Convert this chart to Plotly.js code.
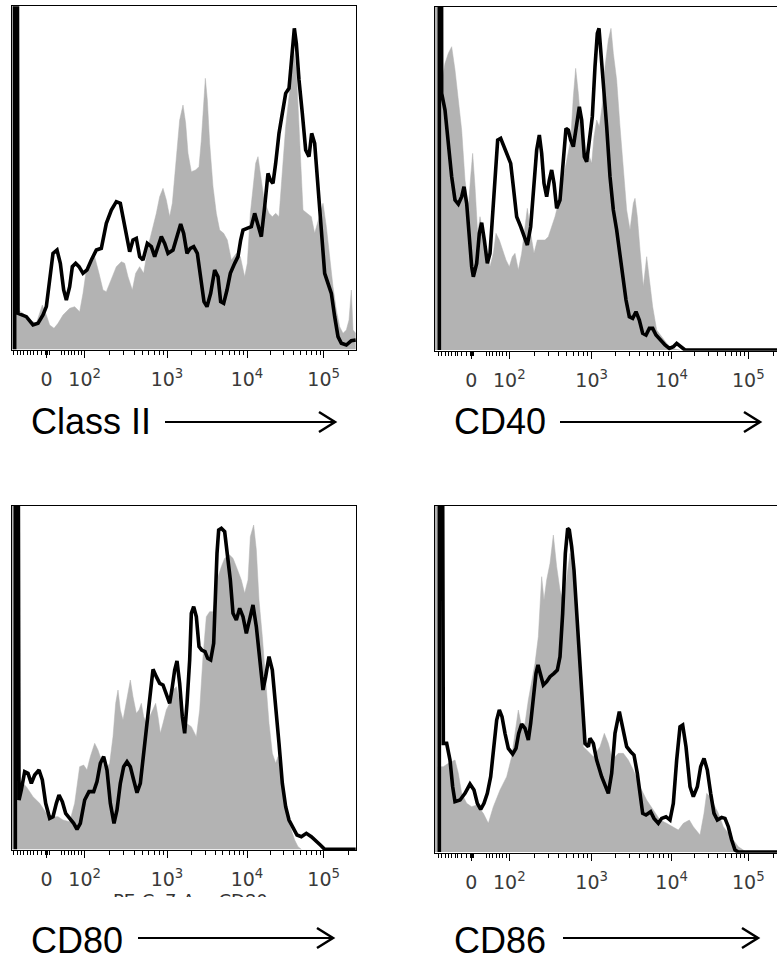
<!DOCTYPE html>
<html><head><meta charset="utf-8">
<script src="https://cdn.plot.ly/plotly-3.0.1.min.js"></script>
<style>html,body{margin:0;padding:0;background:#fff}#chart{width:777px;height:956px}</style>
</head><body><div id="chart"></div>
<script>
// ---- Data (x: display channel on the biexponential axis, y: event count, arbitrary units) ----
// Gray filled histogram = control, black line = stained sample
const classII_ctrl_x = [0,4,6,18,33,53,73,91,103,113,126,138,153,173,188,203,213,223,238,248,261,273,283,298,313,328,338,348,361,371,383,395,408,423,433,443,453,463,473,481,493,503,513,521,528,538,551,561,568,575,580,586,593,603,613,623,635,646,658,673,685,698,706,715,723,731,738,746,755,763,771,781,791,801,811,821,831,839,845,853,863,873,885,898,908,921,933,943,953,963,973,983,993,1003,1011,1018,1023,1031];
const classII_ctrl_y = [3000,3000,118,118,108,88,78,133,103,73,63,78,103,123,128,113,168,238,258,278,228,178,173,208,248,263,258,218,178,228,248,228,308,368,408,458,483,448,398,438,578,688,733,678,588,533,538,548,628,748,813,748,618,488,408,358,348,328,268,288,278,218,258,408,488,558,578,528,458,428,408,398,408,398,548,668,758,848,898,838,618,418,408,398,348,398,438,368,268,188,118,68,48,58,88,178,58,48];
const classII_stain_x = [8,8,13,18,43,63,78,93,103,113,123,135,145,155,163,173,181,191,201,213,225,238,253,268,283,298,313,325,338,353,363,373,383,393,406,418,428,438,448,458,468,483,496,506,515,525,535,545,556,566,576,585,596,608,618,626,635,645,655,668,678,686,693,705,718,728,738,748,758,768,775,783,791,801,811,821,831,839,847,853,861,871,881,891,899,908,918,928,938,948,958,968,978,988,1003,1018,1031];
const classII_stain_y = [0,3000,3000,108,98,73,78,103,128,208,288,298,258,178,148,188,248,258,248,228,238,268,298,303,378,418,443,438,368,293,328,333,278,268,318,308,278,308,338,318,288,298,348,376,348,288,303,308,288,218,143,128,168,238,218,143,138,178,228,258,278,328,358,363,368,408,368,338,428,528,508,498,558,648,708,768,783,888,963,918,808,708,598,578,648,618,498,348,228,198,168,98,38,18,13,26,28];

const cd40_ctrl_x = [0,18,20,30,40,50,60,70,80,90,100,107,113,120,128,135,145,155,165,175,183,193,203,213,223,232,240,250,260,267,277,287,297,307,317,330,340,350,360,370,380,390,400,407,415,422,430,440,450,460,470,477,485,493,501,510,520,528,535,545,555,565,575,585,595,600,607,615,625,635,643,653,665,680,695,710,725,735];
const cd40_ctrl_y = [3000,3000,800,860,890,910,840,750,660,510,430,520,590,490,350,400,350,290,250,290,350,330,300,270,250,280,290,240,290,350,425,350,290,330,330,330,340,370,400,440,490,540,600,630,760,845,770,650,590,590,560,640,690,670,730,850,930,965,890,810,670,530,420,360,440,455,400,300,190,280,210,130,60,40,20,5,2,0];
const cd40_stain_x = [13,13,18,20,30,40,50,60,70,80,87,95,102,110,115,125,133,140,148,157,165,173,180,188,197,207,217,227,235,245,257,267,277,287,295,305,313,320,327,335,343,350,357,365,375,385,393,400,407,415,423,433,440,448,455,463,472,480,487,492,498,507,515,525,535,545,555,565,573,583,593,603,613,623,633,643,653,663,675,690,703,715,725,735,750,1031];
const cd40_stain_y = [0,3000,3000,770,720,620,520,450,438,460,490,440,350,250,220,260,350,382,330,260,290,400,530,630,635,610,580,560,490,400,370,340,315,370,470,600,645,590,500,460,510,540,500,425,450,580,665,660,630,610,670,730,690,580,565,620,700,850,950,965,890,790,670,520,420,360,290,220,150,100,95,115,90,50,45,65,65,45,30,15,5,10,20,12,0,0];

const cd80_ctrl_x = [0,6,8,23,43,63,83,103,123,138,153,173,188,203,215,225,235,248,258,268,281,293,303,311,318,325,333,343,355,363,373,381,388,395,403,413,423,431,438,445,453,463,473,483,493,503,513,523,538,553,563,573,583,593,603,608,618,628,638,653,663,673,688,698,708,715,725,733,741,751,761,771,781,791,798,808,818,828,838,848,858,868];
const cd80_ctrl_y = [3000,3000,208,208,188,158,138,108,98,98,88,83,138,248,253,238,278,318,298,268,238,258,338,438,478,418,388,438,508,458,408,418,438,398,378,398,418,438,398,348,378,418,438,478,488,438,398,378,368,338,418,578,698,713,713,748,818,848,873,883,873,848,808,768,808,938,973,898,748,638,498,378,288,258,278,218,138,88,58,28,8,0];
const cd80_stain_x = [10,10,15,21,28,38,48,58,68,81,91,101,113,123,133,141,151,161,173,185,195,205,218,231,245,255,265,275,285,295,306,315,325,335,345,355,365,375,385,393,403,413,423,433,443,453,463,473,481,488,495,503,511,518,525,533,538,545,553,561,569,579,587,596,605,611,615,620,628,638,648,655,663,673,683,693,703,713,723,733,743,753,761,771,781,791,801,811,821,831,843,855,868,883,898,913,925,938,1031];
const cd80_stain_y = [0,3000,3000,148,178,233,228,198,223,238,208,138,93,98,138,163,143,108,93,78,60,78,148,173,173,203,258,278,238,138,78,118,198,248,263,248,208,170,198,268,348,458,540,518,498,493,468,438,488,538,565,498,398,348,438,568,708,728,698,608,598,593,573,568,618,798,888,958,963,953,878,808,708,688,723,698,648,688,733,668,568,478,518,578,538,438,318,198,128,88,63,43,38,48,38,26,13,0,0];

const cd86_ctrl_x = [0,6,8,25,40,60,70,80,95,110,125,145,160,175,195,215,230,240,250,260,270,280,290,300,310,320,327,335,345,355,365,375,385,395,405,415,425,435,440,445,455,475,495,508,520,530,540,550,565,580,595,615,635,655,675,695,715,730,745,763,775,795,807,815,825,835,850,865,880,895,910,925,935];
const cd86_ctrl_y = [3000,3000,256,256,266,276,236,176,146,136,141,116,86,136,186,226,286,356,426,376,386,456,516,566,646,826,756,816,866,951,856,786,746,816,896,846,726,586,446,316,306,286,316,356,326,286,286,296,296,276,246,196,156,126,96,86,76,66,86,96,76,51,116,176,166,146,116,76,56,36,16,6,0];
const cd86_stain_x = [13,13,18,25,35,45,53,60,75,90,105,117,127,137,147,157,167,177,185,193,201,210,220,233,243,251,260,270,280,287,295,303,309,317,325,335,345,357,367,375,383,391,398,403,410,417,425,435,443,450,460,465,475,485,500,520,530,540,553,563,575,587,597,607,615,623,633,647,657,670,680,693,705,715,725,735,743,753,765,775,787,797,807,817,827,837,847,860,870,880,890,900,910,1031];
const cd86_stain_y = [0,3000,3000,326,326,276,196,151,156,176,204,186,146,128,146,176,226,316,396,426,406,356,311,294,311,356,384,371,336,386,466,536,561,526,501,511,526,536,546,586,716,896,971,966,916,846,726,586,446,326,316,341,326,276,226,176,236,356,421,376,316,301,291,236,176,116,111,121,101,86,101,106,96,146,276,376,381,316,196,166,196,256,281,246,176,116,96,104,101,76,36,6,0,0];

const markerNames = ['Class II','CD40','CD80','CD86'];
const tickLabels = ['0','10<sup>2</sup>','10<sup>3</sup>','10<sup>4</sup>','10<sup>5</sup>'];
// channel positions of the labelled ticks (0, 1e2, 1e3, 1e4, 1e5)
const tickChannels = [104,218,465,705,935];

// ---- Layout ----
const W = 777, H = 956;
const GRAY = '#b3b3b3';
const panels = [
  {cx: classII_ctrl_x, cy: classII_ctrl_y, sx: classII_stain_x, sy: classII_stain_y, l:12, r:356, t:6.3, b:350, shift:0, right:true, lx:30, ly:421, a0:165, a1:335, ay:422},
  {cx: cd40_ctrl_x, cy: cd40_ctrl_y, sx: cd40_stain_x, sy: cd40_stain_y, l:435, r:777, t:6.7, b:350.7, shift:5, right:false, lx:453, ly:421, a0:560, a1:760, ay:422},
  {cx: cd80_ctrl_x, cy: cd80_ctrl_y, sx: cd80_stain_x, sy: cd80_stain_y, l:12, r:356, t:506, b:850, shift:0, right:true, lx:30, ly:940, a0:138, a1:333, ay:938},
  {cx: cd86_ctrl_x, cy: cd86_ctrl_y, sx: cd86_stain_x, sy: cd86_stain_y, l:435, r:777, t:506, b:852.7, shift:5, right:false, lx:453, ly:940, a0:563, a1:758, ay:938}
];

function minorTicks(shift){
  const v = [5,15,25,35,45,55,63,75,88,100.5,107.5,111,148,158,168,178,188,198,208];
  const widths = [247,240,230,250];
  for (let d = 0; d < 4; d++) {
    const base = tickChannels[d+1];
    for (let k = 2; k <= 9; k++) {
      const p = base + Math.log10(k) * widths[d];
      if (p < 1031) v.push(p);
    }
  }
  return v.map(x => x + shift);
}

const data = [];
const layout = {
  width: W, height: H, margin: {l:0, r:0, t:0, b:0},
  paper_bgcolor: '#fff', plot_bgcolor: 'rgba(0,0,0,0)', showlegend: false,
  annotations: [], shapes: []
};
const px = x => x / W, py = y => 1 - y / H;

panels.forEach((p, i) => {
  const n = i === 0 ? '' : String(i + 1);
  const xa = 'x' + n, ya = 'y' + n;
  data.push({type:'scatter', mode:'lines', x:p.cx, y:p.cy, xaxis:xa, yaxis:ya,
    fill:'tozeroy', fillcolor:GRAY, line:{color:GRAY, width:0.5}, hoverinfo:'skip'});
  data.push({type:'scatter', mode:'lines', x:p.sx, y:p.sy, xaxis:xa, yaxis:ya,
    line:{color:'#000', width:3.6}, hoverinfo:'skip'});
  layout['xaxis' + n] = {
    domain:[px(p.l), Math.min(1, px(p.r))], anchor:ya,
    range:[0, 3 * (p.r - p.l)], fixedrange:true,
    showgrid:false, zeroline:false, showline:true, mirror:true, linecolor:'#000', linewidth:1,
    tickmode:'array', tickvals:tickChannels.map(v => v + p.shift), ticktext:tickLabels,
    ticks:'outside', ticklen:7, tickwidth:1, tickcolor:'#000',
    ticklabelstandoff:5,
    tickfont:{family:'DejaVu Sans', size:19, color:'#3a3a3a'},
    minor:{tickmode:'array', tickvals:minorTicks(p.shift), ticks:'outside', ticklen:4, tickwidth:1, tickcolor:'#000', showgrid:false},
    layer:'above traces'
  };
  layout['yaxis' + n] = {
    domain:[py(p.b), py(p.t)], anchor:xa,
    range:[-2, 3 * (p.b - p.t) - 2], fixedrange:true,
    showgrid:false, zeroline:false, showticklabels:false, ticks:'',
    showline:true, mirror:p.right, linecolor:'#000', linewidth:1, layer:'above traces'
  };
  layout.annotations.push({xref:'paper', yref:'paper', x:px(p.lx), y:py(p.ly),
    xanchor:'left', yanchor:'middle', showarrow:false, text:markerNames[i],
    height:32, valign:'middle', borderpad:0,
    font:{family:'Liberation Sans, Arial, sans-serif', size:36, color:'#000'}});
  // arrow shaft + open arrow head
  layout.shapes.push({type:'line', xref:'paper', yref:'paper', x0:px(p.a0), x1:px(p.a1 - 1), y0:py(p.ay), y1:py(p.ay),
    line:{color:'#000', width:2}});
  layout.shapes.push({type:'path', xref:'paper', yref:'paper',
    path:`M ${px(p.a1-16)} ${py(p.ay-10)} L ${px(p.a1)} ${py(p.ay)} L ${px(p.a1-16)} ${py(p.ay+10)}`,
    line:{color:'#000', width:2.5}});
});

// partially hidden axis title under the CD80 panel
layout.annotations.push({xref:'paper', yref:'paper', x:px(190), y:py(889), xanchor:'center', yanchor:'top',
  showarrow:false, text:'PE-Cy7-A :: CD80', height:7, valign:'top', borderpad:0,
  font:{family:'DejaVu Sans', size:18, color:'#333'}});

Plotly.newPlot('chart', data, layout, {staticPlot:true, displayModeBar:false});
</script>
</body></html>
